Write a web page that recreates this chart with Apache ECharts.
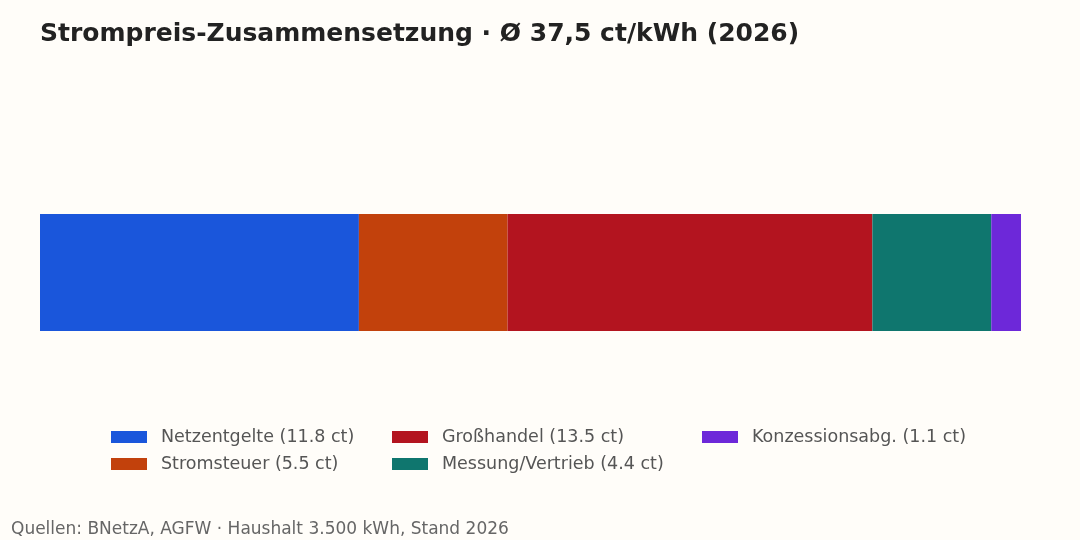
<!DOCTYPE html>
<html>
<head>
<meta charset="utf-8">
<script src="https://cdn.jsdelivr.net/npm/echarts@6/dist/echarts.min.js"></script>
<style>
  html, body { margin: 0; padding: 0; background: #fffdf9; }
  #chart { width: 1080px; height: 540px; }
</style>
</head>
<body>
<div id="chart"></div>
<script>
// Bestandteile des Strompreises (ct/kWh)
const names = ['Netzentgelte', 'Stromsteuer', 'Großhandel', 'Messung/Vertrieb', 'Konzessionsabg.'];
const values = [11.8, 5.5, 13.5, 4.4, 1.1];
const colors = ['#1a56db', '#c2410c', '#b3141f', '#0f766e', '#6d28d9'];
const category = ['2026'];

const FONT = 'DejaVu Sans';
const total = values.reduce((a, b) => a + b, 0);
const labelOf = (i) => names[i] + ' (' + values[i].toFixed(1) + ' ct)';

var myChart = echarts.init(document.getElementById('chart'));

// Legenden spaltenweise wie im Original
const columns = [[0, 1], [2, 3], [4]];
const colLeft = [111, 392, 702];
const legends = columns.map((idx, c) => ({
  orient: 'vertical',
  left: colLeft[c],
  top: 427,
  padding: 0,
  itemWidth: 36,
  itemHeight: 12,
  itemGap: 7,
  icon: 'rect',
  data: idx.map(i => labelOf(i)),
  textStyle: {
    color: '#555',
    fontSize: 17.5,
    lineHeight: 20,
    fontFamily: FONT,
    padding: [0, 0, 0, 9]
  }
}));

var option = {
  backgroundColor: '#fffdf9',
  animation: false,
  textStyle: { fontFamily: FONT },
  title: [
    {
      text: 'Strompreis-Zusammensetzung · Ø 37,5 ct/kWh (2026)',
      left: 40,
      top: 19,
      padding: 0,
      textStyle: { fontFamily: FONT, fontSize: 25, lineHeight: 30, fontWeight: 'bold', color: '#222' }
    },
    {
      text: 'Quellen: BNetzA, AGFW · Haushalt 3.500 kWh, Stand 2026',
      left: 11,
      top: 520,
      padding: 0,
      textStyle: { fontFamily: FONT, fontSize: 17, lineHeight: 20, fontWeight: 'normal', color: '#666' }
    }
  ],
  legend: legends,
  grid: { left: 40, right: 59, top: 214, bottom: 209, containLabel: false },
  xAxis: {
    type: 'value',
    min: 0,
    max: total,
    show: false
  },
  yAxis: {
    type: 'category',
    data: category,
    show: false
  },
  series: names.map((n, i) => ({
    name: labelOf(i),
    type: 'bar',
    stack: 'preis',
    barWidth: '100%',
    itemStyle: { color: colors[i], borderWidth: 0 },
    data: [values[i]]
  }))
};

option && myChart.setOption(option);
</script>
</body>
</html>
